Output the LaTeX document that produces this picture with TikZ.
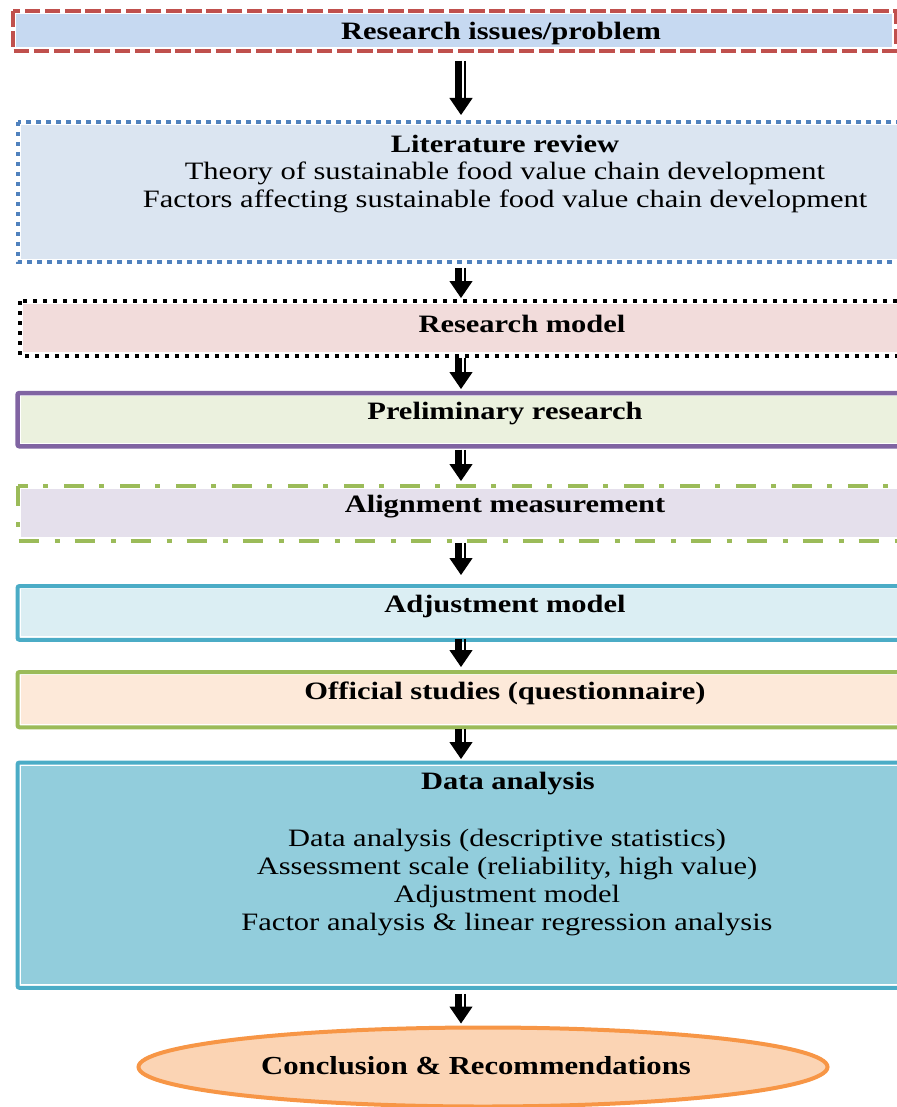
\documentclass[tikz,border=0pt]{standalone}
\usepackage{fontspec}
\setmainfont{Liberation Serif}
\usetikzlibrary{arrows.meta,shapes.geometric}

\definecolor{issueline}{HTML}{C0504D}
\definecolor{issuefill}{HTML}{C6D9F1}
\definecolor{reviewline}{HTML}{4F81BD}
\definecolor{reviewfill}{HTML}{DBE5F1}
\definecolor{modelfill}{HTML}{F2DCDB}
\definecolor{prelimline}{HTML}{8064A2}
\definecolor{prelimfill}{HTML}{EBF1DE}
\definecolor{greenline}{HTML}{9BBB59}
\definecolor{alignfill}{HTML}{E5E0EC}
\definecolor{aqualine}{HTML}{4BACC6}
\definecolor{adjustfill}{HTML}{DBEEF3}
\definecolor{surveyfill}{HTML}{FDE9D9}
\definecolor{analysisfill}{HTML}{92CDDC}
\definecolor{endline}{HTML}{F79646}
\definecolor{endfill}{HTML}{FBD4B4}

\tikzset{
  panel/.style 2 args={rectangle, anchor=north west, inner sep=0pt,
    minimum width=#1, minimum height=#2},
  headtxt/.style={font=\bfseries\fontsize{12.5}{14}\selectfont, xscale=1.22,
    inner sep=0pt, yshift=-1.5pt},
  bodytxt/.style={font=\fontsize{12.5}{14}\selectfont, xscale=1.22, align=center,
    inner sep=0pt, yshift=-1.5pt},
  solidframe/.style={draw=#1, line width=2pt, rounded corners=1pt},
  flow/.style 2 args={draw=black, line width=0.6pt, shorten <=#1, shorten >=#2,
    -{Triangle[length=8.5pt,width=11.5pt]},
    postaction={draw, arrows=-, line width=3.2pt, shorten <=#1, shorten >=#2+7pt,
      transform canvas={xshift=-1.25pt}},
    postaction={draw, arrows=-, line width=1.3pt, shorten <=#1, shorten >=#2+7pt,
      transform canvas={xshift=2pt}}}
}

\begin{document}
\begin{tikzpicture}[x=0.5pt, y=-0.5pt]
  \useasboundingbox (0,0) rectangle (897,1107);
  \clip (0,0) rectangle (897,1107);

  % boxes
  \node[panel={438pt}{16.5pt}, fill=issuefill] (issue) at (16,14) {};
  \draw[draw=issueline, line width=2.25pt, dash pattern=on 7.8pt off 2.3pt]
    ([shift={(-3,-3)}]issue.north west) rectangle ([shift={(3,3)}]issue.south east);

  \node[panel={489.75pt}{66.75pt}, fill=reviewfill] (review) at (20.5,125) {};
  \draw[draw=reviewline, line width=2pt, dash pattern=on 2.2pt off 2.8pt]
    ([shift={(-3,-3)}]review.north west) rectangle ([shift={(3,3)}]review.south east);

  \node[panel={488.5pt}{24pt}, fill=modelfill] (model) at (23,304) {};
  \draw[draw=black, line width=2pt, dash pattern=on 2pt off 3pt]
    ([shift={(-3,-3)}]model.north west) rectangle ([shift={(3,3)}]model.south east);

  \node[panel={489.75pt}{23.25pt}, fill=prelimfill] (prelim) at (20.5,396) {};
  \draw[solidframe=prelimline, line width=2.25pt]
    ([shift={(-3,-3)}]prelim.north west) rectangle ([shift={(3,3)}]prelim.south east);

  \node[panel={489.75pt}{24pt}, fill=alignfill] (align) at (20.5,489) {};
  \draw[draw=greenline, line width=2pt, dash pattern=on 10pt off 8pt on 2.5pt off 7.5pt]
    ([shift={(-3,-3)}]align.north west) rectangle ([shift={(3,3)}]align.south east);

  \node[panel={489.75pt}{23.5pt}, fill=adjustfill] (adjust) at (20.5,589) {};
  \draw[solidframe=aqualine]
    ([shift={(-3,-3)}]adjust.north west) rectangle ([shift={(3,3)}]adjust.south east);

  \node[panel={489.75pt}{24.25pt}, fill=surveyfill] (survey) at (20.5,675) {};
  \draw[solidframe=greenline]
    ([shift={(-3,-3)}]survey.north west) rectangle ([shift={(3,3)}]survey.south east);

  \node[panel={489.75pt}{109.25pt}, fill=analysisfill] (analysis) at (20.5,765.5) {};
  \draw[solidframe=aqualine]
    ([shift={(-3,-3)}]analysis.north west) rectangle ([shift={(3,3)}]analysis.south east);

  \node[ellipse, draw=endline, fill=endfill, line width=2pt, inner sep=0pt,
    minimum width=344.5pt, minimum height=39.5pt] (conclusion) at (483,1067) {};

  % texts
  \node[headtxt] (issuetxt) at (501,30) {Research issues/problem};
  \node[headtxt] (reviewtxt) at (505,141) {Literature review};
  \node[bodytxt] (reviewbody) at (505,184)
    {Theory of sustainable food value chain development\\
     Factors affecting sustainable food value chain development};
  \node[headtxt] (modeltxt) at (522,321) {Research model};
  \node[headtxt] (prelimtxt) at (505,411) {Preliminary research};
  \node[headtxt] (aligntxt) at (505,504) {Alignment measurement};
  \node[headtxt] (adjusttxt) at (505,603) {Adjustment model};
  \node[headtxt] (surveytxt) at (505,690) {Official studies (questionnaire)};
  \node[headtxt] (analysistxt) at (508,781) {Data analysis};
  \node[bodytxt] (analysisbody) at (507,880)
    {Data analysis (descriptive statistics)\\
     Assessment scale (reliability, high value)\\
     Adjustment model\\
     Factor analysis \& linear regression analysis};
  \node[font=\bfseries\fontsize{13}{15}\selectfont, xscale=1.18, inner sep=0pt]
    (conclusiontxt) at (476,1066) {Conclusion \& Recommendations};

  % arrows
  \coordinate (spine) at (461,0);
  \draw[flow={6.5pt}{5pt}] (issue.south -| spine) -- (review.north -| spine);
  \draw[flow={4.25pt}{3pt}] (review.south -| spine) -- (model.north -| spine);
  \draw[flow={2.5pt}{3.5pt}] (model.south -| spine) -- (prelim.north -| spine);
  \draw[flow={3.25pt}{4pt}] (prelim.south -| spine) -- (align.north -| spine);
  \draw[flow={2.5pt}{7pt}] (align.south -| spine) -- (adjust.north -| spine);
  \draw[flow={1pt}{4pt}] (adjust.south -| spine) -- (survey.north -| spine);
  \draw[flow={2.25pt}{3.25pt}] (survey.south -| spine) -- (analysis.north -| spine);
  \draw[flow={4.5pt}{1pt}] (analysis.south -| spine) -- (conclusion.north -| spine);
\end{tikzpicture}
\end{document}
